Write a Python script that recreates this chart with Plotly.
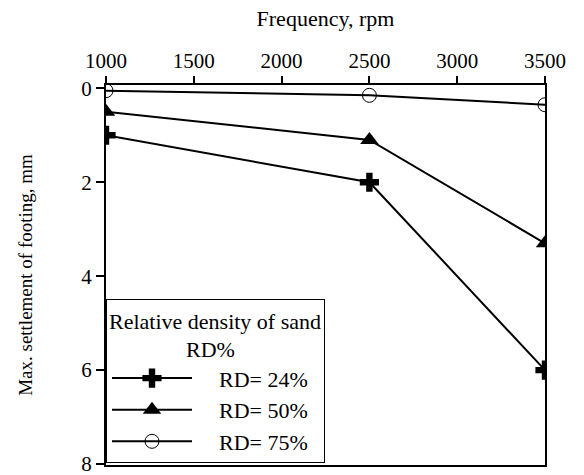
import plotly.graph_objects as go

frequency = [1000, 2500, 3500]
rd24 = [1.0, 2.0, 6.0]
rd50 = [0.5, 1.1, 3.3]
rd75 = [0.05, 0.15, 0.35]
series_names = ["RD= 24%", "RD= 50%", "RD= 75%"]
x_ticks = [1000, 1500, 2000, 2500, 3000, 3500]
y_ticks = [0, 2, 4, 6, 8]

FONT = "Liberation Serif"
NB = "\u00a0"
PAD = "    "

fig = go.Figure()
fig.add_trace(go.Scatter(x=frequency, y=rd24, name=PAD + series_names[0], mode="lines+markers",
                         legendgroup="a",
                         line=dict(color="black", width=2),
                         marker=dict(symbol="cross", size=16, color="black")))
fig.add_trace(go.Scatter(x=frequency, y=rd50, name=PAD + series_names[1], mode="lines+markers",
                         legendgroup="b",
                         line=dict(color="black", width=2),
                         marker=dict(symbol="triangle-up", size=16, color="black")))
fig.add_trace(go.Scatter(x=frequency, y=rd75, name=PAD + series_names[2], mode="lines+markers",
                         legendgroup="c",
                         line=dict(color="black", width=2),
                         marker=dict(symbol="circle-open", size=14, color="black", line=dict(width=1))))

fig.update_layout(
    width=584, height=475,
    margin=dict(l=106, r=39, t=85, b=10, autoexpand=False),
    paper_bgcolor="white", plot_bgcolor="white",
    font=dict(family=FONT, size=21, color="black"),
    showlegend=True,
    legend=dict(
        x=0.0, y=0.005, xanchor="left", yanchor="bottom",
        bgcolor="white", bordercolor="black", borderwidth=1,
        font=dict(family=FONT, size=22, color="black"),
        title=dict(text="Relative density of sand<br>" + NB * 14 + "RD%", side="top",
                   font=dict(family=FONT, size=22, color="black")),
        traceorder="normal", itemwidth=80, tracegroupgap=14,
    ),
    xaxis=dict(
        side="top", range=[1000, 3500], tickvals=x_ticks,
        ticks="outside", ticklen=7, tickwidth=2, tickcolor="black",
        showline=True, linecolor="black", linewidth=2, mirror=True,
        showgrid=False, zeroline=False, automargin=False, ticklabeloverflow="allow",
        title=dict(text="Frequency, rpm", font=dict(family=FONT, size=22, color="black"), standoff=16),
        tickfont=dict(family=FONT, size=21, color="black"),
    ),
    yaxis=dict(
        range=[8.02, -0.07], tickvals=y_ticks,
        ticks="outside", ticklen=8, tickwidth=2, tickcolor="black",
        showline=True, linecolor="black", linewidth=2, mirror=True,
        showgrid=False, zeroline=False, automargin=False, ticklabeloverflow="allow",
        title=dict(text="Max. settlement of footing, mm", font=dict(family=FONT, size=19, color="black"), standoff=44),
        tickfont=dict(family=FONT, size=21, color="black"),
    ),
)

fig.write_html("out.html")
